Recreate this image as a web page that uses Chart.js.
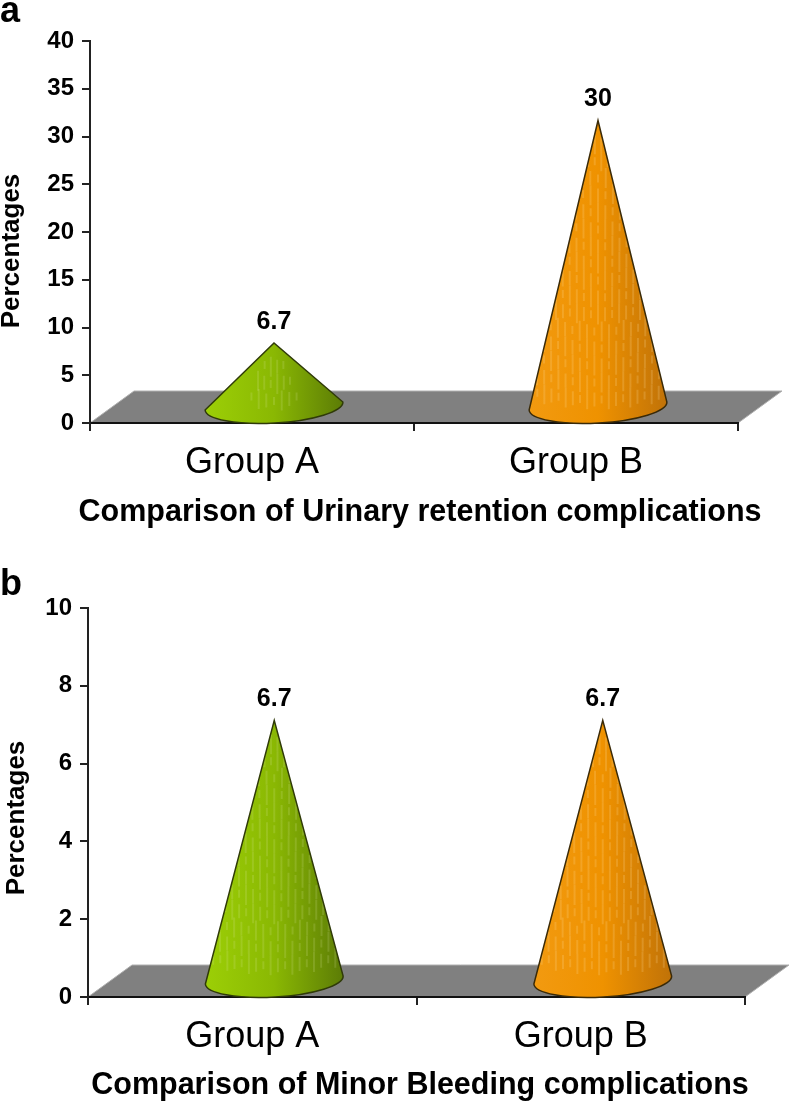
<!DOCTYPE html>
<html lang="en">

<head>
    <meta charset="UTF-8">
    <title>Complications</title>
    <style>
        body { margin: 0; background: #fff; }
        canvas { position: absolute; left: 0; }
        #chartA { top: 0; }
        #chartB { top: 550px; }
    </style>
</head>

<body>
    <canvas id="chartA" width="793" height="550"></canvas>
    <canvas id="chartB" width="793" height="552"></canvas>

    <script src="https://cdn.jsdelivr.net/npm/chart.js"></script>

    <script>
        const categories = ['Group A', 'Group B'];

        const urinaryValues = [6.7, 30];
        const urinaryTicks = [0, 5, 10, 15, 20, 25, 30, 35, 40];
        const urinaryTitle = 'Comparison of Urinary retention complications';

        const bleedingValues = [6.7, 6.7];
        const bleedingTicks = [0, 2, 4, 6, 8, 10];
        const bleedingTitle = 'Comparison of Minor Bleeding complications';

        const yAxisTitle = 'Percentages';

        const coneColors = [
            { left: '#9ccf06', mid: '#8ab803', right: '#5c7c06', dash: 'rgba(225,240,170,0.17)', edge: '#2f3a08' },
            { left: '#f29a10', mid: '#ef9200', right: '#c07208', dash: 'rgba(255,225,165,0.20)', edge: '#3a2a08' }
        ];

        // short vertical dashes in rings round the tip, like the dithered highlight of the old 3D chart
        function drawSpeckle(ctx, tipX, tipY, height, colour) {
            ctx.strokeStyle = colour;
            ctx.lineWidth = 2;
            for (let r = 24; r < height; r += 17) {
                const count = Math.max(3, Math.round(r / 9));
                for (let i = 0; i <= count; i++) {
                    const angle = Math.PI / 2 + (i / count - 0.5) * 0.8;
                    const x = tipX + Math.cos(angle) * r;
                    const y = tipY + Math.sin(angle) * r;
                    const half = 4 + (i % 3) * 3;
                    ctx.beginPath();
                    ctx.moveTo(x, y - half);
                    ctx.lineTo(x, y + half);
                    ctx.stroke();
                }
            }
        }

        const conePlugin = {
            id: 'cones',
            beforeDraw(chart, args, opts) {
                // grey floor, goes under the axes
                const ctx = chart.ctx;
                const area = chart.chartArea;
                ctx.save();
                ctx.beginPath();
                ctx.moveTo(area.left, area.bottom);
                ctx.lineTo(area.left + opts.depthX, area.bottom - opts.depthY);
                ctx.lineTo(area.right + opts.depthX, area.bottom - opts.depthY);
                ctx.lineTo(area.right, area.bottom);
                ctx.closePath();
                ctx.fillStyle = '#808080';
                ctx.fill();
                ctx.strokeStyle = '#b0b0b0';
                ctx.lineWidth = 1;
                ctx.stroke();
                ctx.restore();
            },
            afterDatasetsDraw(chart, args, opts) {
                const ctx = chart.ctx;
                const area = chart.chartArea;
                const rx = opts.baseRadius;
                const baseY = area.bottom - opts.depthY / 2 - 1;
                const tilt = -0.058;
                const values = chart.data.datasets[0].data;

                chart.getDatasetMeta(0).data.forEach((bar, i) => {
                    const c = coneColors[i];
                    const tipX = bar.x + opts.depthX / 2;
                    const tipY = bar.y - opts.depthY / 2;
                    const grad = ctx.createLinearGradient(tipX - rx, 0, tipX + rx, 0);
                    grad.addColorStop(0, c.left);
                    grad.addColorStop(0.5, c.mid);
                    grad.addColorStop(1, c.right);

                    const cone = new Path2D();
                    cone.ellipse(tipX, baseY, rx, opts.depthY / 2 + 1, tilt, 0, Math.PI);
                    cone.lineTo(tipX, tipY);
                    cone.closePath();

                    ctx.save();
                    ctx.fillStyle = grad;
                    ctx.fill(cone);

                    ctx.save();
                    ctx.clip(cone);
                    drawSpeckle(ctx, tipX, tipY, baseY - tipY, c.dash);
                    ctx.restore();

                    ctx.strokeStyle = c.edge;
                    ctx.lineWidth = 1.5;
                    ctx.stroke(cone);

                    ctx.fillStyle = '#000';
                    ctx.font = 'bold 25px "Liberation Sans"';
                    ctx.textAlign = 'center';
                    ctx.textBaseline = 'middle';
                    ctx.fillText(String(values[i]), tipX, tipY - 21);
                    ctx.restore();
                });
            },
            afterDraw(chart, args, opts) {
                const ctx = chart.ctx;
                ctx.save();
                ctx.fillStyle = '#000';
                ctx.textBaseline = 'alphabetic';

                ctx.font = 'bold 36px "Liberation Sans"';
                ctx.textAlign = 'left';
                ctx.fillText(opts.panel, 0, opts.panelY);

                ctx.font = 'bold 30.5px "Liberation Sans"';
                ctx.textAlign = 'center';
                ctx.fillText(opts.title, opts.titleX, opts.titleY);

                ctx.translate(opts.yTitleX, opts.yTitleY);
                ctx.rotate(-Math.PI / 2);
                ctx.font = 'bold 26px "Liberation Sans"';
                ctx.fillText(yAxisTitle, 0, 0);
                ctx.restore();
            }
        };

        function makeChart(id, values, ticks, axisLeft, axisRight, axisTop, axisBottom, labels) {
            const canvas = document.getElementById(id);
            return new Chart(canvas, {
                type: 'bar',
                data: {
                    labels: categories,
                    datasets: [{ data: values, backgroundColor: 'transparent', borderWidth: 0 }]
                },
                plugins: [conePlugin],
                options: {
                    responsive: false,
                    animation: false,
                    layout: { padding: { left: 0, right: canvas.width - axisRight, top: axisTop, bottom: 0 } },
                    plugins: {
                        legend: { display: false },
                        tooltip: { enabled: false },
                        cones: Object.assign({ depthX: 44, depthY: 32, baseRadius: 69 }, labels)
                    },
                    scales: {
                        x: {
                            afterFit: scale => { scale.height = canvas.height - axisBottom; },
                            grid: { offset: true, drawOnChartArea: false, color: '#222', lineWidth: 2, tickLength: 8 },
                            border: { color: '#111', width: 2 },
                            ticks: {
                                color: '#000',
                                padding: 10,
                                maxRotation: 0,
                                font: { family: 'Liberation Sans', size: 36 }
                            }
                        },
                        y: {
                            min: ticks[0],
                            max: ticks[ticks.length - 1],
                            afterBuildTicks: scale => { scale.ticks = ticks.map(v => ({ value: v })); },
                            afterFit: scale => { scale.width = axisLeft; },
                            grid: { drawOnChartArea: false, color: '#222', lineWidth: 2, tickLength: 8 },
                            border: { color: '#222', width: 2 },
                            ticks: {
                                color: '#000',
                                padding: 8,
                                font: { family: 'Liberation Sans', size: 24, weight: 'bold' }
                            }
                        }
                    }
                }
            });
        }

        makeChart('chartA', urinaryValues, urinaryTicks, 90, 738, 41, 423, {
            panel: 'a', panelY: 22,
            title: urinaryTitle, titleX: 420, titleY: 521,
            yTitleX: 19, yTitleY: 251
        });

        makeChart('chartB', bleedingValues, bleedingTicks, 88, 745, 58, 447, {
            panel: 'b', panelY: 45,
            title: bleedingTitle, titleX: 420, titleY: 544,
            yTitleX: 24, yTitleY: 268
        });
    </script>

</body>

</html>
